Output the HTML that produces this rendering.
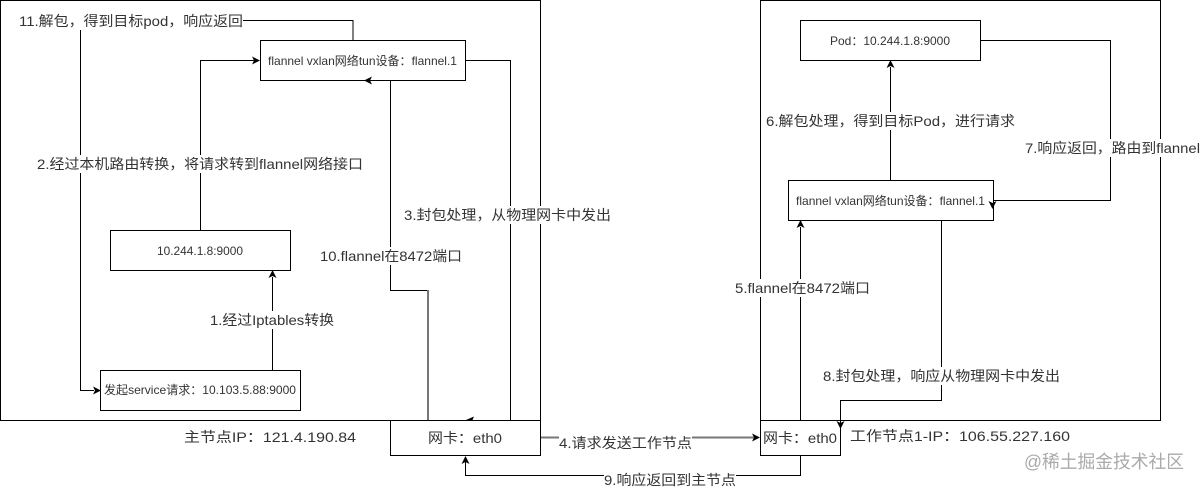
<!DOCTYPE html>
<html><head><meta charset="utf-8">
<style>
html,body{margin:0;padding:0;background:#fff;width:1201px;height:488px;overflow:hidden}
svg{display:block}
text{font-family:"Liberation Sans","Noto Sans CJK SC",sans-serif;fill:#333;font-size:14px}
.s{font-size:12px}
.l{fill:none;stroke:#000;stroke-width:1}
.g{fill:none;stroke:#777;stroke-width:2}
.b{fill:#fff;stroke:#000;stroke-width:1}
.a{fill:#000;stroke:none}
.w{fill:#fff;stroke:none}
</style></head><body>
<svg width="1201" height="488" viewBox="0 0 1201 488" xmlns="http://www.w3.org/2000/svg">
<rect class="b" x="0.5" y="0.5" width="540" height="420"/>
<rect class="b" x="760.5" y="0.5" width="400" height="420"/>

<!-- left connectors -->
<path class="l" d="M353 40V20.5H243"/>
<path class="l" d="M80.5 30V390.5H94"/>
<path class="l" d="M200.5 230V60.5H254"/>
<path class="l" d="M465 60.5H510.5V420"/>
<path class="l" d="M390.5 80V290.5"/>
<path class="l" d="M390 290.5H428"/>
<path class="g" d="M428 290V420"/>
<path class="l" d="M272.5 370V277"/>
<path class="a" d="M272.5 270l-4 8 4-2 4 2z"/>

<!-- right connectors -->
<path class="l" d="M890.5 180V67"/>
<path class="a" d="M890.5 60l-4 8 4-2 4 2z"/>
<path class="l" d="M981 40.5H1110.5V200.5H993"/>
<path class="l" d="M800.5 420V227"/>
<path class="a" d="M800.5 220l-4 8 4-2 4 2z"/>
<path class="l" d="M941.5 220V400.5H840.5V420"/>

<!-- boxes -->
<rect class="b" x="260.5" y="40.5" width="205" height="40"/>
<rect class="b" x="110.5" y="230.5" width="180" height="40"/>
<rect class="b" x="100.5" y="370.5" width="200" height="40"/>
<rect class="b" x="390.5" y="420.5" width="150" height="35"/>
<rect class="b" x="800.5" y="20.5" width="180" height="40"/>
<rect class="b" x="788.5" y="180.5" width="205" height="40"/>
<rect class="b" x="760.5" y="420.5" width="80" height="35"/>

<!-- arrowheads on top of boxes -->
<path class="a" d="M101 390.5l-8-4 2 4-2 4z"/>
<path class="a" d="M260 60.5l-8-4 2 4-2 4z"/>
<path class="a" d="M364 80.5l8-4-2 4 2 4z"/>
<path class="l" d="M372 80.5H390"/>
<path class="a" d="M466 420l8-3.500-1.500 3.500z"/>
<path class="a" d="M992.5 209l-4-8 4 2 4-2z"/>
<path class="a" d="M840.5 429l-4-8 4 2 4-2z"/>

<!-- lower connectors -->
<path class="g" d="M541 437.5H755"/>
<path class="a" d="M760 437.5l-8-4 2 4-2 4z"/>
<path class="l" d="M800.5 455V475.5H465.5V462"/>
<path class="a" d="M465.5 456l-4 8 4-2 4 2z"/>

<!-- edge label backgrounds -->
<rect class="w" x="19" y="12" width="224" height="18"/>
<rect class="w" x="37" y="155" width="326" height="18"/>
<rect class="w" x="404" y="206" width="207" height="18"/>
<rect class="w" x="320" y="247" width="142" height="18"/>
<rect class="w" x="210" y="311" width="124" height="18"/>
<rect class="w" x="766" y="112" width="249" height="18"/>
<rect class="w" x="1025" y="139" width="176" height="18"/>
<rect class="w" x="735" y="279" width="135" height="18"/>
<rect class="w" x="823" y="367" width="237" height="18"/>
<rect class="w" x="559" y="434" width="133" height="18"/>
<rect class="w" x="604" y="471" width="132" height="17"/>

<!-- labels -->
<g lengthAdjust="spacingAndGlyphs">
<text x="19" y="26" textLength="224" lengthAdjust="spacingAndGlyphs">11.解包，得到目标pod，响应返回</text>
<text x="37" y="169" textLength="326" lengthAdjust="spacingAndGlyphs">2.经过本机路由转换，将请求转到flannel网络接口</text>
<text x="404" y="220" textLength="207" lengthAdjust="spacingAndGlyphs">3.封包处理，从物理网卡中发出</text>
<text x="320" y="261" textLength="142" lengthAdjust="spacingAndGlyphs">10.flannel在8472端口</text>
<text x="210" y="325" textLength="124" lengthAdjust="spacingAndGlyphs">1.经过Iptables转换</text>
<text x="184" y="442" textLength="172" lengthAdjust="spacingAndGlyphs">主节点IP：121.4.190.84</text>
<text x="428" y="443" textLength="74" lengthAdjust="spacingAndGlyphs">网卡：eth0</text>
<text x="763" y="443" textLength="74" lengthAdjust="spacingAndGlyphs">网卡：eth0</text>
<text x="559" y="448" textLength="133" lengthAdjust="spacingAndGlyphs">4.请求发送工作节点</text>
<text x="604" y="485" textLength="132" lengthAdjust="spacingAndGlyphs">9.响应返回到主节点</text>
<text x="850" y="441" textLength="220" lengthAdjust="spacingAndGlyphs">工作节点1-IP：106.55.227.160</text>
<text x="766" y="126" textLength="249" lengthAdjust="spacingAndGlyphs">6.解包处理，得到目标Pod，进行请求</text>
<text x="1025" y="153" textLength="175" lengthAdjust="spacingAndGlyphs">7.响应返回，路由到flannel</text>
<text x="735" y="293" textLength="135" lengthAdjust="spacingAndGlyphs">5.flannel在8472端口</text>
<text x="823" y="381" textLength="237" lengthAdjust="spacingAndGlyphs">8.封包处理，响应从物理网卡中发出</text>
<text x="1024" y="468" textLength="160" lengthAdjust="spacingAndGlyphs" style="fill:#aaa;font-size:18px">@稀土掘金技术社区</text>

<!-- node text -->
<text class="s" x="268" y="65" textLength="189" lengthAdjust="spacingAndGlyphs">flannel vxlan网络tun设备：flannel.1</text>
<text class="s" x="157" y="255" textLength="86" lengthAdjust="spacingAndGlyphs">10.244.1.8:9000</text>
<text class="s" x="104" y="394" textLength="192" lengthAdjust="spacingAndGlyphs">发起service请求：10.103.5.88:9000</text>
<text class="s" x="830" y="45" textLength="120" lengthAdjust="spacingAndGlyphs">Pod：10.244.1.8:9000</text>
<text class="s" x="796" y="205" textLength="189" lengthAdjust="spacingAndGlyphs">flannel vxlan网络tun设备：flannel.1</text>
</g>
</svg>
</body></html>
